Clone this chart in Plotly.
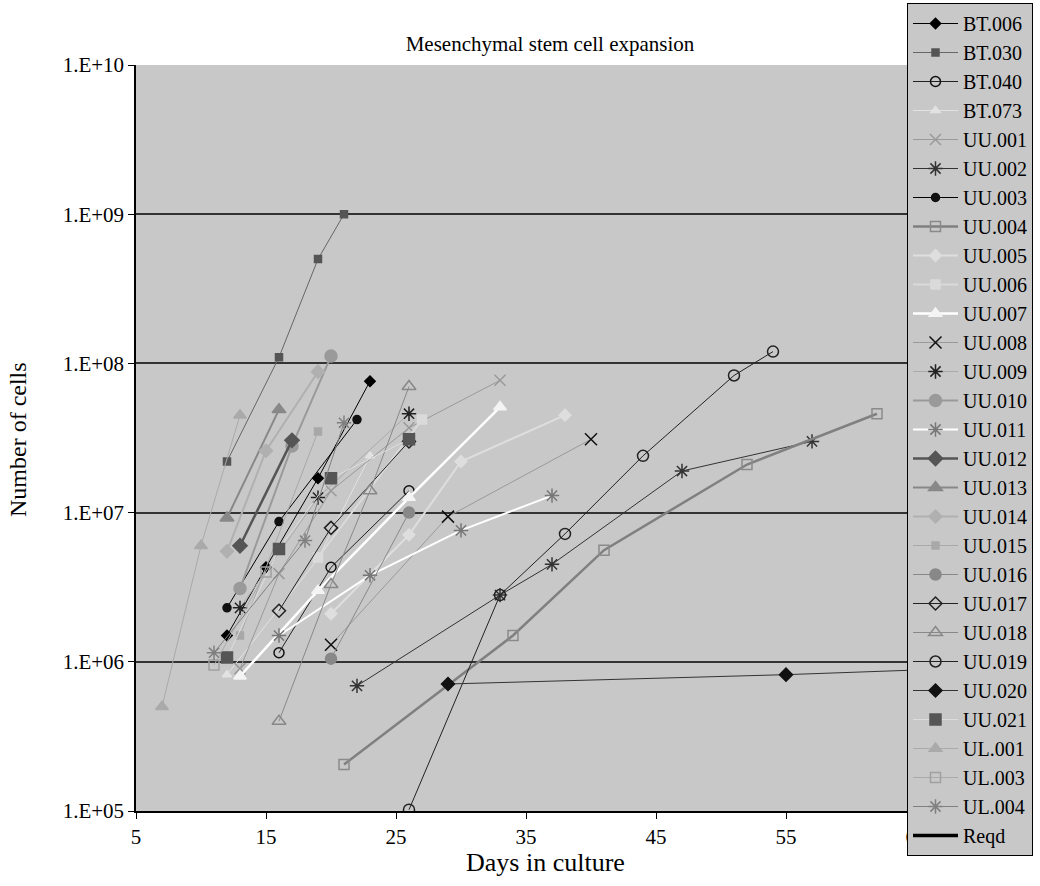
import plotly.graph_objects as go

# ---- data (days in culture, number of cells) ----
names = ["BT.006", "BT.030", "BT.040", "BT.073", "UU.001", "UU.002", "UU.003", "UU.004",
         "UU.005", "UU.006", "UU.007", "UU.008", "UU.009", "UU.010", "UU.011", "UU.012",
         "UU.013", "UU.014", "UU.015", "UU.016", "UU.017", "UU.018", "UU.019", "UU.020",
         "UU.021", "UL.001", "UL.003", "UL.004", "Reqd"]

bt006_x = [12, 15, 19, 23]
bt006_y = [1.5e6, 4.3e6, 1.7e7, 7.6e7]
bt030_x = [12, 16, 19, 21]
bt030_y = [2.2e7, 1.1e8, 5.0e8, 1.0e9]
bt040_x = [16, 20, 26]
bt040_y = [1.15e6, 4.3e6, 1.4e7]
bt073_x = [12, 19, 23]
bt073_y = [8.2e5, 4.9e6, 2.4e7]
uu001_x = [13, 16, 20, 26, 33]
uu001_y = [9.0e5, 3.9e6, 1.4e7, 3.7e7, 7.7e7]
uu002_x = [22, 33, 37, 47, 57]
uu002_y = [6.9e5, 2.8e6, 4.5e6, 1.9e7, 3.0e7]
uu003_x = [12, 16, 22]
uu003_y = [2.3e6, 8.7e6, 4.2e7]
uu004_x = [21, 34, 41, 52, 62]
uu004_y = [2.05e5, 1.5e6, 5.6e6, 2.1e7, 4.6e7]
uu005_x = [20, 26, 30, 38]
uu005_y = [2.1e6, 7.1e6, 2.2e7, 4.5e7]
uu006_x = [19, 27]
uu006_y = [5.0e6, 4.2e7]
uu007_x = [13, 19, 26, 33]
uu007_y = [8.0e5, 3.0e6, 1.26e7, 5.1e7]
uu008_x = [20, 29, 40]
uu008_y = [1.3e6, 9.4e6, 3.1e7]
uu009_x = [13, 19, 26]
uu009_y = [2.3e6, 1.26e7, 4.6e7]
uu010_x = [13, 17, 20]
uu010_y = [3.1e6, 2.8e7, 1.12e8]
uu011_x = [16, 23, 30, 37]
uu011_y = [1.5e6, 3.8e6, 7.6e6, 1.3e7]
uu012_x = [13, 17]
uu012_y = [6.0e6, 3.05e7]
uu013_x = [12, 16]
uu013_y = [9.2e6, 4.9e7]
uu014_x = [12, 15, 19]
uu014_y = [5.5e6, 2.6e7, 8.8e7]
uu015_x = [13, 19]
uu015_y = [1.5e6, 3.5e7]
uu016_x = [20, 26]
uu016_y = [1.05e6, 1.0e7]
uu017_x = [16, 20, 26]
uu017_y = [2.2e6, 7.9e6, 3.0e7]
uu018_x = [16, 20, 23, 26]
uu018_y = [4.0e5, 3.3e6, 1.4e7, 7.0e7]
uu019_x = [26, 33, 38, 44, 51, 54]
uu019_y = [1.02e5, 2.8e6, 7.2e6, 2.4e7, 8.3e7, 1.2e8]
uu020_x = [29, 55, 68]
uu020_y = [7.1e5, 8.2e5, 9.0e5]
uu021_x = [12, 16, 20, 26]
uu021_y = [1.07e6, 5.7e6, 1.7e7, 3.1e7]
ul001_x = [7, 10, 13]
ul001_y = [5.0e5, 6.0e6, 4.5e7]
ul003_x = [11, 15]
ul003_y = [9.5e5, 4.0e6]
ul004_x = [11, 18, 21]
ul004_y = [1.15e6, 6.5e6, 4.0e7]
reqd_x = [None]
reqd_y = [None]

xs = [bt006_x, bt030_x, bt040_x, bt073_x, uu001_x, uu002_x, uu003_x, uu004_x, uu005_x,
      uu006_x, uu007_x, uu008_x, uu009_x, uu010_x, uu011_x, uu012_x, uu013_x, uu014_x,
      uu015_x, uu016_x, uu017_x, uu018_x, uu019_x, uu020_x, uu021_x, ul001_x, ul003_x,
      ul004_x, reqd_x]
ys = [bt006_y, bt030_y, bt040_y, bt073_y, uu001_y, uu002_y, uu003_y, uu004_y, uu005_y,
      uu006_y, uu007_y, uu008_y, uu009_y, uu010_y, uu011_y, uu012_y, uu013_y, uu014_y,
      uu015_y, uu016_y, uu017_y, uu018_y, uu019_y, uu020_y, uu021_y, ul001_y, ul003_y,
      ul004_y, reqd_y]

x_ticks = [5, 15, 25, 35, 45, 55, 65]
y_ticks = [1e5, 1e6, 1e7, 1e8, 1e9, 1e10]
y_ticktext = ["1.E+05", "1.E+06", "1.E+07", "1.E+08", "1.E+09", "1.E+10"]

# ---- styles: (line colour, line width, symbol, marker colour, marker size) ----
styles = [
    ("#000000", 1, "diamond", "#000000", 8),
    ("#666666", 1, "square", "#555555", 7),
    ("#222222", 1, "circle-open", "#111111", 10),
    ("#e2e2e2", 1, "triangle-up", "#e2e2e2", 8),
    ("#9a9a9a", 1, "x-thin-open", "#9a9a9a", 11),
    ("#333333", 1, "asterisk-open", "#333333", 12),
    ("#000000", 1, "circle", "#111111", 8),
    ("#808080", 2.5, "square-open", "#8a8a8a", 10),
    ("#dedede", 2, "diamond", "#dedede", 9),
    ("#dadada", 2, "square", "#dadada", 9),
    ("#ffffff", 2.5, "triangle-up", "#f4f4f4", 11),
    ("#9a9a9a", 1, "x-thin-open", "#111111", 12),
    ("#aaaaaa", 1, "asterisk-open", "#222222", 12),
    ("#9a9a9a", 2, "circle", "#9a9a9a", 12),
    ("#ffffff", 2, "asterisk-open", "#777777", 12),
    ("#555555", 2.5, "diamond", "#555555", 11),
    ("#888888", 2, "triangle-up", "#888888", 12),
    ("#b0b0b0", 2, "diamond", "#b0b0b0", 10),
    ("#a8a8a8", 1, "square", "#a8a8a8", 7),
    ("#888888", 1, "circle", "#888888", 11),
    ("#222222", 1, "diamond-open", "#222222", 10),
    ("#888888", 1, "triangle-up-open", "#888888", 12),
    ("#222222", 1, "circle-open", "#222222", 11),
    ("#333333", 1, "diamond", "#111111", 10),
    ("#dddddd", 1, "square", "#555555", 11),
    ("#aaaaaa", 1, "triangle-up", "#aaaaaa", 11),
    ("#aaaaaa", 1, "square-open", "#a0a0a0", 10),
    ("#808080", 1, "asterisk-open", "#808080", 12),
    ("#000000", 3.5, "circle", "#000000", 1),
]

fig = go.Figure()
for i, name in enumerate(names):
    lc, lw, sym, mc, ms = styles[i]
    mode = "lines" if name == "Reqd" else "lines+markers"
    fig.add_trace(go.Scatter(
        x=xs[i], y=ys[i], name=name, mode=mode, legendgroup=name,
        line=dict(color=lc, width=lw),
        marker=dict(symbol=sym, color=mc, size=ms,
                    line=dict(color=mc, width=1.5)),
    ))

L, R, T, B = 136, 59, 65, 75
W, H = 1040, 886
pw, ph = W - L - R, H - T - B

fig.update_layout(
    width=W, height=H,
    margin=dict(l=L, r=R, t=T, b=B, autoexpand=False),
    paper_bgcolor="white",
    plot_bgcolor="#c8c8c8",
    font=dict(family="Liberation Serif", size=21, color="black"),
    title=dict(text="Mesenchymal stem cell expansion", x=550 / W, xanchor="center",
               y=1 - 44 / H, yanchor="middle", font=dict(size=21)),
    showlegend=True,
    legend=dict(x=(907 - L) / pw, xanchor="left",
                y=(H - B - 3) / ph, yanchor="top", maxheight=880,
                bgcolor="#c8c8c8", bordercolor="black", borderwidth=1,
                font=dict(size=20), tracegroupgap=0, itemwidth=45,
                traceorder="grouped"),
    xaxis=dict(range=[5, 70], tickvals=x_ticks, showgrid=False, zeroline=False,
               showline=True, linecolor="black", linewidth=1.5,
               ticks="outside", ticklen=6, tickcolor="black",
               tickfont=dict(size=21)),
    yaxis=dict(type="log", range=[5, 10], tickvals=y_ticks, ticktext=y_ticktext,
               showgrid=True, gridcolor="#333333", gridwidth=2, zeroline=False,
               showline=True, linecolor="black", linewidth=1.5,
               ticks="outside", ticklen=6, tickcolor="black",
               tickfont=dict(size=21)),
    annotations=[
        dict(text="Days in culture", xref="paper", yref="paper",
             x=(545 - L) / pw, y=-(862 - (H - B)) / ph, xanchor="center", yanchor="middle",
             showarrow=False, font=dict(size=26)),
        dict(text="Number of cells", xref="paper", yref="paper",
             x=-(L - 18) / pw, y=(H - B - 440) / ph, xanchor="center", yanchor="middle",
             textangle=-90, showarrow=False, font=dict(size=24)),
    ],
)

fig.write_html("out.html")
